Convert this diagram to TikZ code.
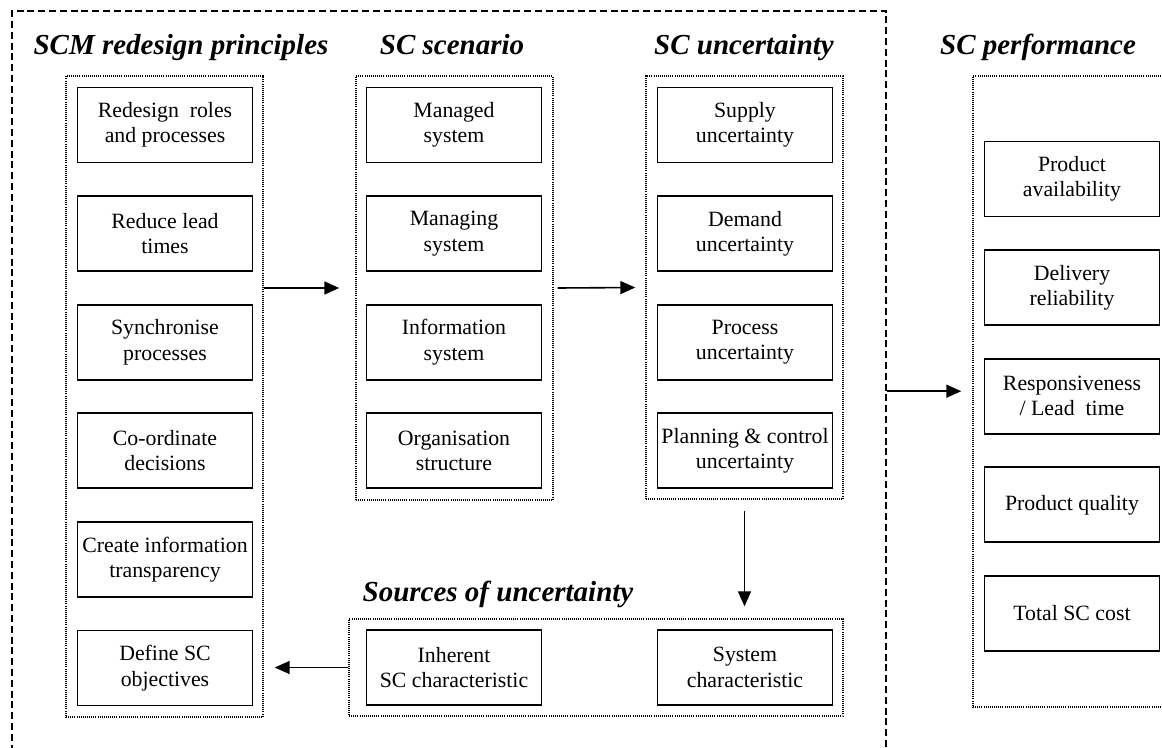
\documentclass[tikz,border=0pt]{standalone}
\usepackage{fontspec}
\setmainfont{Liberation Serif}
\usetikzlibrary{arrows.meta}
\begin{document}
\begin{tikzpicture}[x=1pt,y=-1pt,
  box/.style={draw, line width=1.9pt, minimum width=175pt, minimum height=75pt,
    inner sep=2pt, align=center, font=\fontsize{21.8}{25.3}\selectfont},
  group/.style={draw, line width=1.4pt, dash pattern=on 1pt off 1.1pt, inner sep=0pt},
  frame/.style={draw, line width=1.7pt, dash pattern=on 7pt off 3.8pt, inner sep=0pt},
  heading/.style={font=\fontsize{29}{33}\selectfont\bfseries\itshape, anchor=base, inner sep=0pt},
  arr/.style={line width=1.6pt, -{Triangle[length=15pt,width=13pt]}}
]
\useasboundingbox (0,0) rectangle (1162,747);
\clip (0,0) rectangle (1162,747);

% outer dashed frame around the redesign part
\node[frame, minimum width=874pt, minimum height=780pt] (outer) at (449,401) {};

% headings
\node[heading] (h1) at (181,54) {SCM redesign principles};
\node[heading] (h2) at (452,54) {SC scenario};
\node[heading] (h3) at (744,54) {SC uncertainty};
\node[heading] (h4) at (1038,54) {SC performance};
\node[heading] (h5) at (498,601) {Sources of uncertainty};

% dotted groups
\node[group, minimum width=197pt, minimum height=641pt] (g1) at (164.5,396.5) {};
\node[group, minimum width=197pt, minimum height=424pt] (g2) at (454.5,288) {};
\node[group, minimum width=197pt, minimum height=423pt] (g3) at (744.5,287.5) {};
\node[group, minimum width=207pt, minimum height=631pt] (g4) at (1076.5,391.5) {};
\node[group, minimum width=494pt, minimum height=97pt] (src) at (596,667.5) {};

% SCM redesign principles
\node[box] (a1) at (165,125)   {Redesign~~roles\\and processes};
\node[box] (a2) at (165,233.6) {Reduce lead\\times};
\node[box] (a3) at (165,342.2) {Synchronise\\processes};
\node[box] (a4) at (165,450.8) {Co-ordinate\\decisions};
\node[box] (a5) at (165,559.4) {Create information\\transparency};
\node[box] (a6) at (165,668)   {Define SC\\objectives};

% SC scenario
\node[box] (b1) at (454,125)   {Managed\\system};
\node[box] (b2) at (454,233.6) {Managing\\system};
\node[box] (b3) at (454,342.2) {Information\\system};
\node[box] (b4) at (454,450.8) {Organisation\\structure};

% SC uncertainty
\node[box] (c1) at (745,125)   {Supply\\uncertainty};
\node[box] (c2) at (745,233.6) {Demand\\uncertainty};
\node[box] (c3) at (745,342.2) {Process\\uncertainty};
\node[box] (c4) at (745,450.8) {Planning \& control\\uncertainty};

% SC performance
\node[box] (p1) at (1072,179)   {Product\\availability};
\node[box] (p2) at (1072,287.6) {Delivery\\reliability};
\node[box] (p3) at (1072,396.2) {Responsiveness\\/ Lead~~time};
\node[box] (p4) at (1072,504.8) {Product quality};
\node[box] (p5) at (1072,613.4) {Total SC cost};

% sources of uncertainty
\node[box] (s1) at (454,667.5) {Inherent\\SC characteristic};
\node[box] (s2) at (745,667.5) {System\\characteristic};

% connectors
\draw[arr] (g1.east |- g2.west) -- ([xshift=-16pt]g2.west);
\draw[arr] ([xshift=4pt]g2.east) -- ([xshift=-10pt]g3.west);
\draw[arr] ([yshift=-11pt]g3.south) -- ([yshift=12pt]g3.south |- src.north);
\draw[arr] (src.west) -- ([xshift=11pt]g1.east |- src.west);
\draw[arr] ([yshift=5pt]outer.east |- p3.west) -- ([xshift=-11pt,yshift=5pt]g4.west |- p3.west);
\end{tikzpicture}
\end{document}
